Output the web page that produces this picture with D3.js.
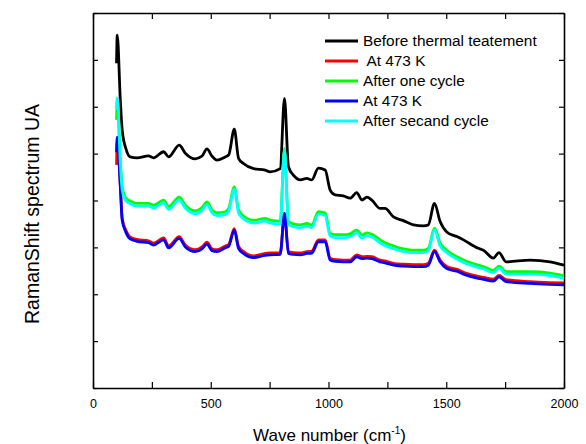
<!DOCTYPE html>
<html>
<head>
<meta charset="utf-8">
<script src="https://cdn.jsdelivr.net/npm/d3@7"></script>
<style>
body { margin: 0; background: #fff; }
svg { font-family: "Liberation Sans", Arial, sans-serif; }
</style>
</head>
<body>
<script>
// raman spectra, values (arbitrary units, axis has no labels)
const wn = [100, 103, 116, 124, 140, 158, 187, 236, 257, 300, 321, 366, 392, 434, 463, 484, 505, 526, 561, 576, 600, 618, 639, 682, 731, 752, 795, 813, 830, 851, 880, 908, 929, 957, 986, 1007, 1028, 1063, 1092, 1120, 1142, 1163, 1184, 1219, 1240, 1276, 1318, 1361, 1403, 1424, 1450, 1474, 1502, 1545, 1573, 1636, 1658, 1700, 1724, 1754, 1856, 1941, 2000];

const beforeVals = [6.93, 7.53, 6.14, 5.50, 5.10, 4.93, 4.91, 4.95, 4.91, 5.04, 4.93, 5.18, 5.01, 4.89, 4.95, 5.10, 4.95, 4.86, 4.93, 4.97, 5.52, 4.90, 4.79, 4.68, 4.65, 4.61, 4.68, 6.18, 4.72, 4.54, 4.44, 4.47, 4.44, 4.69, 4.65, 4.22, 4.12, 4.10, 4.05, 4.17, 4.01, 4.07, 4.01, 3.83, 3.83, 3.65, 3.57, 3.48, 3.46, 3.48, 3.94, 3.55, 3.33, 3.23, 3.16, 2.98, 2.94, 2.77, 2.89, 2.69, 2.73, 2.69, 2.62];

const heat1Vals = [4.76, 5.29, 4.33, 3.62, 3.36, 3.22, 3.17, 3.14, 3.09, 3.20, 3.03, 3.23, 3.05, 2.95, 3.01, 3.11, 2.97, 2.95, 3.03, 3.06, 3.40, 3.02, 2.91, 2.82, 2.87, 2.88, 2.89, 3.70, 2.91, 2.89, 2.88, 2.91, 2.92, 3.16, 3.16, 2.77, 2.74, 2.73, 2.73, 2.84, 2.80, 2.81, 2.80, 2.73, 2.71, 2.66, 2.64, 2.63, 2.63, 2.66, 2.94, 2.73, 2.59, 2.53, 2.47, 2.38, 2.36, 2.32, 2.40, 2.31, 2.27, 2.25, 2.24];

const cycle1Vals = [5.72, 6.14, 4.86, 4.29, 4.05, 3.99, 3.94, 3.94, 3.90, 4.01, 3.87, 4.07, 3.90, 3.78, 3.85, 3.97, 3.80, 3.74, 3.76, 3.83, 4.29, 3.80, 3.67, 3.58, 3.62, 3.58, 3.56, 5.11, 3.55, 3.50, 3.48, 3.51, 3.48, 3.76, 3.73, 3.30, 3.27, 3.27, 3.29, 3.37, 3.26, 3.31, 3.28, 3.16, 3.10, 3.03, 2.97, 2.94, 2.94, 2.98, 3.41, 3.09, 2.94, 2.80, 2.73, 2.62, 2.59, 2.51, 2.60, 2.48, 2.48, 2.45, 2.39];

const heat2Vals = [5.03, 5.35, 4.29, 3.58, 3.32, 3.18, 3.13, 3.10, 3.05, 3.16, 2.99, 3.19, 3.01, 2.91, 2.97, 3.07, 2.93, 2.91, 2.99, 3.02, 3.37, 2.98, 2.87, 2.78, 2.83, 2.84, 2.85, 3.73, 2.87, 2.85, 2.84, 2.87, 2.88, 3.12, 3.12, 2.73, 2.70, 2.69, 2.69, 2.80, 2.76, 2.77, 2.76, 2.69, 2.67, 2.62, 2.60, 2.59, 2.59, 2.62, 2.91, 2.69, 2.55, 2.49, 2.43, 2.34, 2.32, 2.28, 2.37, 2.27, 2.23, 2.21, 2.20];

const cycle2Vals = [5.95, 6.19, 4.80, 4.22, 3.99, 3.93, 3.88, 3.88, 3.84, 3.95, 3.81, 4.01, 3.84, 3.72, 3.79, 3.91, 3.74, 3.68, 3.70, 3.77, 4.24, 3.74, 3.61, 3.52, 3.56, 3.52, 3.50, 5.08, 3.49, 3.44, 3.42, 3.45, 3.42, 3.71, 3.68, 3.24, 3.21, 3.21, 3.23, 3.31, 3.20, 3.25, 3.22, 3.10, 3.04, 2.97, 2.91, 2.89, 2.89, 2.93, 3.38, 3.03, 2.89, 2.75, 2.68, 2.57, 2.54, 2.46, 2.56, 2.43, 2.43, 2.40, 2.34];

const seriesNames = ["Before thermal teatement", " At 473 K", "After one cycle", "At 473 K", "After secand cycle"];
const seriesColors = ["#000000", "#ff0000", "#00ff00", "#0000ff", "#00ffff"];
const seriesVals = [beforeVals, heat1Vals, cycle1Vals, heat2Vals, cycle2Vals];

// x ticks every 250, labels only on the 500s
const xTicks = [0, 250, 500, 750, 1000, 1250, 1500, 1750, 2000];

const svgWidth = 586;
const svgHeight = 444;
const margin = { top: 13, right: 22, bottom: 56, left: 93 };
const width = svgWidth - margin.left - margin.right;
const height = svgHeight - margin.top - margin.bottom;

const svgRoot = d3.select("body")
    .append("svg")
    .attr("width", svgWidth)
    .attr("height", svgHeight);

const svg = svgRoot.append("g")
    .attr("transform", `translate(${margin.left},${margin.top})`);

const x = d3.scaleLinear()
    .domain([0, 2000])
    .range([0, width]);

const y = d3.scaleLinear()
    .domain([0, 8])
    .range([height, 0]);

// axes, ticks pointing inward on all 4 sides
svg.append("g")
    .attr("class", "axis")
    .attr("transform", `translate(0,${height})`)
    .call(d3.axisBottom(x).tickValues(xTicks).tickSizeInner(-6).tickSizeOuter(0).tickPadding(11)
        .tickFormat(d => d % 500 == 0 ? d : ""));

svg.append("g")
    .attr("class", "axis")
    .call(d3.axisTop(x).tickValues(xTicks).tickSizeInner(-6).tickSizeOuter(0).tickFormat(""));

svg.append("g")
    .attr("class", "axis")
    .call(d3.axisLeft(y).ticks(8).tickSizeInner(-5).tickSizeOuter(0).tickFormat(""));

svg.append("g")
    .attr("class", "axis")
    .attr("transform", `translate(${width},0)`)
    .call(d3.axisRight(y).ticks(8).tickSizeInner(-5).tickSizeOuter(0).tickFormat(""));

svg.selectAll(".axis path").attr("stroke-width", 1.6);
svg.selectAll(".axis line").attr("stroke-width", 1.2);
svg.selectAll(".axis text").attr("font-size", "12.5px").attr("fill", "#000")
    .attr("font-family", "Liberation Sans, Arial, sans-serif");

// spectra, smoothed a bit so the peaks are rounded like the original
const line = d3.line()
    .x((d, i) => x(wn[i]))
    .y(d => y(d))
    .curve(d3.curveMonotoneX);

seriesVals.forEach(function (vals, k) {
    svg.append("path")
        .datum(vals)
        .attr("fill", "none")
        .attr("stroke", seriesColors[k])
        .attr("stroke-width", 2.8)
        .attr("stroke-linejoin", "round")
        .attr("d", line);
});

// legend
const legend = svg.selectAll(".legendItem")
    .data(seriesNames)
    .enter()
    .append("g")
    .attr("transform", (d, i) => `translate(${325 - margin.left},${41 - margin.top + i * 20})`);

legend.append("line")
    .attr("x1", 0)
    .attr("x2", 33)
    .attr("stroke", (d, i) => seriesColors[i])
    .attr("stroke-width", 2.8);

legend.append("text")
    .text(d => d)
    .attr("x", 38)
    .attr("dy", "0.35em")
    .attr("font-size", "15.4px")
    .style("white-space", "pre");

// axis titles
const xTitle = svgRoot.append("text")
    .attr("x", margin.left + width / 2 + 1)
    .attr("y", 441)
    .attr("text-anchor", "middle")
    .attr("font-size", "17px");
xTitle.append("tspan").text("Wave number (cm");
xTitle.append("tspan").text("-1").attr("font-size", "10px").attr("dy", "-7");
xTitle.append("tspan").text(")").attr("dy", "7");

svgRoot.append("text")
    .text("RamanShift spectrum UA")
    .attr("transform", `translate(39,214) rotate(-90)`)
    .attr("text-anchor", "middle")
    .attr("font-size", "19.5px");
</script>
</body>
</html>
